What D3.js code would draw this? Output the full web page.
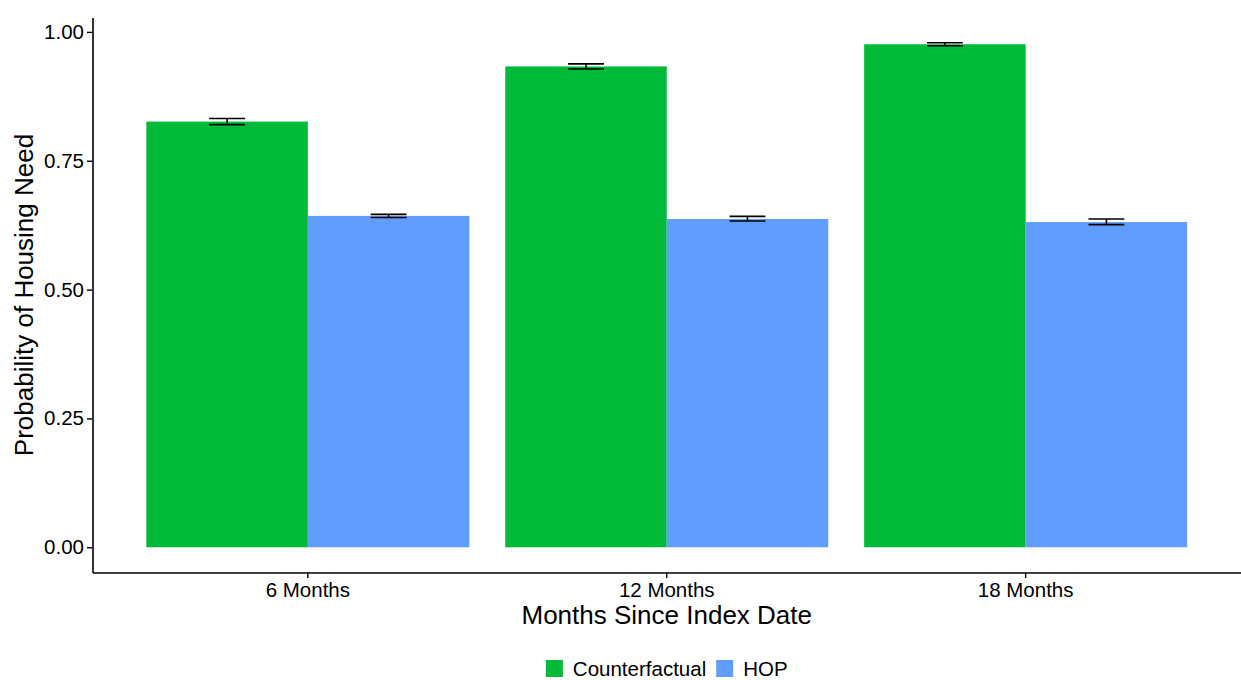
<!DOCTYPE html>
<html>
<head>
<meta charset="utf-8">
<script src="https://cdn.jsdelivr.net/npm/d3@7/dist/d3.min.js"></script>
<style>
  html, body { margin: 0; padding: 0; background: #fff; }
  svg { display: block; font-family: "Liberation Sans", Arial, sans-serif; }
</style>
</head>
<body>
<svg id="chart" width="1241" height="680"></svg>
<script>
// Time points since the index date
const periods = ["6 Months", "12 Months", "18 Months"];
// Groups compared at each time point
const groups = ["Counterfactual", "HOP"];
// Estimated probability of housing need
const counterfactual = [0.826, 0.933, 0.976];
const hop = [0.643, 0.637, 0.631];
// Confidence interval bounds
const counterfactualLower = [0.820, 0.928, 0.973];
const counterfactualUpper = [0.832, 0.938, 0.979];
const hopLower = [0.640, 0.633, 0.626];
const hopUpper = [0.646, 0.642, 0.637];
// Y-axis tick values
const yTicks = [0, 0.25, 0.5, 0.75, 1.0];

const colors = { "Counterfactual": "#00BA38", "HOP": "#619CFF" };

const rows = [];
periods.forEach((p, i) => {
  rows.push({ period: p, group: "Counterfactual", value: counterfactual[i], lo: counterfactualLower[i], hi: counterfactualUpper[i] });
  rows.push({ period: p, group: "HOP", value: hop[i], lo: hopLower[i], hi: hopUpper[i] });
});

const svg = d3.select("#chart");
const panel = { left: 92.5, right: 1241, top: 17.5, bottom: 572.5 };

// y domain with 5% expansion on both ends of the data range
const yMax = d3.max(rows, d => d.hi);
const pad = 0.05 * yMax;
const y = d3.scaleLinear().domain([-pad, yMax + pad]).range([panel.bottom, panel.top]);

const x = d3.scaleBand().domain(periods).range([panel.left, panel.right])
  .paddingInner(0.1).paddingOuter(0.15);
const xSub = d3.scaleBand().domain(groups).range([0, x.bandwidth()]).padding(0);

const tickFont = 20.5, titleFont = 26;

// Bars
svg.append("g").selectAll("rect").data(rows).join("rect")
  .attr("x", d => x(d.period) + xSub(d.group))
  .attr("y", d => y(d.value))
  .attr("width", xSub.bandwidth())
  .attr("height", d => y(0) - y(d.value))
  .attr("fill", d => colors[d.group]);

// Error bars
const whisker = x.step() * 0.1;
const eb = svg.append("g").attr("stroke", "#000").attr("stroke-width", 1.6).attr("fill", "none");
rows.forEach(d => {
  const cx = x(d.period) + xSub(d.group) + xSub.bandwidth() / 2;
  eb.append("line").attr("x1", cx).attr("x2", cx).attr("y1", y(d.lo)).attr("y2", y(d.hi));
  eb.append("line").attr("x1", cx - whisker / 2).attr("x2", cx + whisker / 2).attr("y1", y(d.lo)).attr("y2", y(d.lo));
  eb.append("line").attr("x1", cx - whisker / 2).attr("x2", cx + whisker / 2).attr("y1", y(d.hi)).attr("y2", y(d.hi));
});

// Y axis
const yAxis = svg.append("g").attr("transform", `translate(${panel.left},0)`)
  .call(d3.axisLeft(y).tickValues(yTicks).tickFormat(d3.format(".2f"))
    .tickSizeInner(5.5).tickSizeOuter(0).tickPadding(3));
yAxis.select(".domain").attr("stroke", "#000").attr("stroke-width", 1.6);
yAxis.selectAll(".tick line").attr("stroke", "#000").attr("stroke-width", 1.4);
yAxis.selectAll(".tick text").attr("fill", "#000").style("font-size", tickFont + "px")
  .style("font-family", "Liberation Sans, Arial, sans-serif");

// X axis
const xAxis = svg.append("g").attr("transform", `translate(0,${panel.bottom})`)
  .call(d3.axisBottom(x).tickSizeInner(5.5).tickSizeOuter(0).tickPadding(4));
xAxis.select(".domain").attr("stroke", "#000").attr("stroke-width", 1.6);
xAxis.selectAll(".tick line").attr("stroke", "#000").attr("stroke-width", 1.4);
xAxis.selectAll(".tick text").attr("fill", "#000").style("font-size", tickFont + "px")
  .style("font-family", "Liberation Sans, Arial, sans-serif");

// Axis titles
const cxPanel = (panel.left + panel.right) / 2;
svg.append("text").attr("x", cxPanel).attr("y", 624)
  .attr("text-anchor", "middle").style("font-size", titleFont + "px").attr("fill", "#000")
  .text("Months Since Index Date");
svg.append("text")
  .attr("transform", `translate(33,${(panel.top + panel.bottom) / 2}) rotate(-90)`)
  .attr("text-anchor", "middle").style("font-size", titleFont + "px").attr("fill", "#000")
  .text("Probability of Housing Need");

// Legend centred under the panel
const legend = svg.append("g");
const keySize = 17, keyGap = 10, itemGap = 10;
let cursor = 0;
groups.forEach(g => {
  const item = legend.append("g");
  item.append("rect").attr("x", 0).attr("y", 0).attr("width", keySize).attr("height", keySize).attr("fill", colors[g]);
  const t = item.append("text").attr("x", keySize + keyGap).attr("y", keySize - 1)
    .style("font-size", tickFont + "px").attr("fill", "#000").text(g);
  const w = keySize + keyGap + t.node().getComputedTextLength();
  item.attr("transform", `translate(${cursor},0)`);
  cursor += w + itemGap;
});
const legendWidth = cursor - itemGap;
legend.attr("transform", `translate(${cxPanel - legendWidth / 2},660)`);
</script>
</body>
</html>
